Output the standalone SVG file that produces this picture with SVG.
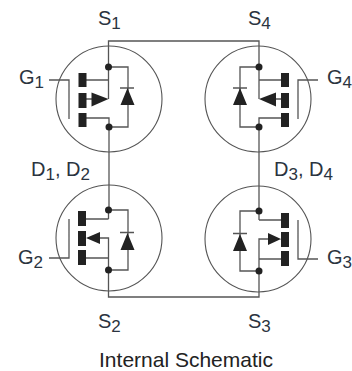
<svg xmlns="http://www.w3.org/2000/svg" width="352" height="371" viewBox="0 0 352 371">
<style>
.c{fill:none;stroke:#555;stroke-width:1.1}
.w{fill:none;stroke:#555;stroke-width:1.3}
.b{fill:#222;stroke:none}
text{font-family:"Liberation Sans",Arial,sans-serif;font-size:20px;fill:#2b3440}
.s{font-size:17px}
.cap{font-size:21px;fill:#222;text-anchor:middle}
</style>
<g id="connectors">
<path class="w" d="M108.500 67V41H259V67"/>
<path class="w" d="M109 127V210"/>
<path class="w" d="M259 127V211"/>
<path class="w" d="M108.500 270V297H259V271"/>
</g>
<g id="Q1">
<circle class="c" cx="109" cy="99" r="53"/>
<path class="w" d="M49 80H69V119M86 80H108.500M108.500 67V99M86 99H92M86 118H109V127M108.500 67H128V127H109M120 88H134"/>
<path class="b" d="M78.500 73h8v14h-8zM78.500 93h8v15h-8zM78.500 113h8v14h-8zM108.500 99L91.500 92.500V106.500zM127.500 88L120.500 105H134.500z"/>
<circle class="b" cx="108.500" cy="67" r="3.500"/><circle class="b" cx="109" cy="127" r="3.500"/>
</g>
<g id="Q4">
<circle class="c" cx="258" cy="99" r="53"/>
<path class="w" d="M318 80H298V119M281 80H259M259 67V99M281 99H276M281 118H259V127M259 67H240V127H259M233 88H247"/>
<path class="b" d="M281 73h8v14h-8zM281 93h8v15h-8zM281 113h8v14h-8zM259 99L276 92.500V106.500zM240 88L233 105H247z"/>
<circle class="b" cx="259" cy="67" r="3.500"/><circle class="b" cx="259" cy="127" r="3.500"/>
</g>
<g id="Q2">
<circle class="c" cx="109" cy="238" r="53"/>
<path class="w" d="M49 258H69V219M86 219H108.500M108.500 210V219M100 238H108.500V270M86 258H108.500M108.500 210H128V270H108.500M120 232.500H134"/>
<path class="b" d="M78 211h8v15h-8zM78 231h8v15h-8zM78 250h8v15h-8zM86 238L100 232V244zM127.500 233L120.500 250H134.500z"/>
<circle class="b" cx="108.500" cy="210" r="3.500"/><circle class="b" cx="108.500" cy="270" r="3.500"/>
</g>
<g id="Q3">
<circle class="c" cx="258" cy="239" r="53"/>
<path class="w" d="M318 259H298V220M281 220H259M259 211V220M268 239H259V271M281 259H259M259 211H240V271H259M233 233.500H247"/>
<path class="b" d="M281 213h8v15h-8zM281 232h8v15h-8zM281 251h8v15h-8zM281 239L268 233V245zM240 234L233 251H247z"/>
<circle class="b" cx="259" cy="211" r="3.500"/><circle class="b" cx="259" cy="271" r="3.500"/>
</g>
<g id="labels">
<text x="98" y="25">S<tspan class="s" dy="4">1</tspan></text>
<text x="248" y="25">S<tspan class="s" dy="4">4</tspan></text>
<text x="19" y="84">G<tspan class="s" dy="4">1</tspan></text>
<text x="327" y="84">G<tspan class="s" dy="4">4</tspan></text>
<text x="31" y="176">D<tspan class="s" dy="4">1</tspan><tspan dy="-4">, D</tspan><tspan class="s" dy="4">2</tspan></text>
<text x="274" y="176">D<tspan class="s" dy="4">3</tspan><tspan dy="-4">, D</tspan><tspan class="s" dy="4">4</tspan></text>
<text x="18" y="264">G<tspan class="s" dy="4">2</tspan></text>
<text x="327" y="264">G<tspan class="s" dy="4">3</tspan></text>
<text x="98" y="328">S<tspan class="s" dy="4">2</tspan></text>
<text x="248" y="328">S<tspan class="s" dy="4">3</tspan></text>
<text class="cap" x="186" y="367">Internal Schematic</text>
</g>
</svg>
